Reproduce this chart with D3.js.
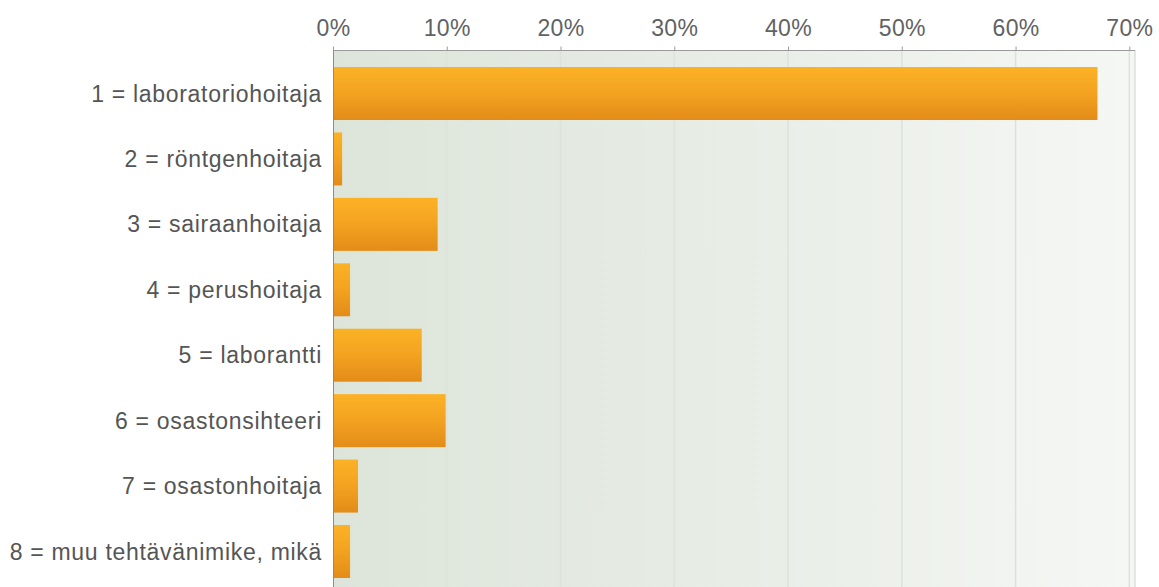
<!DOCTYPE html>
<html>
<head>
<meta charset="utf-8">
<script src="https://cdn.jsdelivr.net/npm/d3@7"></script>
<style>
  html, body { margin: 0; padding: 0; background: #ffffff; }
  svg { display: block; }
  .cat-label { font-family: "Liberation Sans", Arial, sans-serif; font-size: 23px; fill: #555555; letter-spacing: 0.7px; }
  .tick text { font-family: "Liberation Sans", Arial, sans-serif; font-size: 23px; letter-spacing: 0.4px; }
</style>
</head>
<body>
<svg id="chart" width="1159" height="587"></svg>
<script>
// Job titles of the respondents (share of answers, %)
const categories = [
  "1 = laboratoriohoitaja",
  "2 = röntgenhoitaja",
  "3 = sairaanhoitaja",
  "4 = perushoitaja",
  "5 = laborantti",
  "6 = osastonsihteeri",
  "7 = osastonhoitaja",
  "8 = muu tehtävänimike, mikä"
];
const values = [67.2, 0.8, 9.2, 1.5, 7.8, 9.9, 2.2, 1.5];
const tickValues = [0, 10, 20, 30, 40, 50, 60, 70];
const tickLabels = ["0%", "10%", "20%", "30%", "40%", "50%", "60%", "70%"];

const plot = { left: 333, right: 1135, top: 50, bottom: 595 };

const svg = d3.select("#chart");

const x = d3.scaleLinear().domain([0, 70.5]).range([plot.left, plot.right]);
const y = d3.scaleBand()
  .domain(categories)
  .range([plot.top, plot.bottom])
  .paddingInner(0.19)
  .paddingOuter(0.26);

const defs = svg.append("defs");

// plot background: soft grey-green fading to the right
const bg = defs.append("linearGradient").attr("id", "bgGrad")
  .attr("x1", "0").attr("y1", "0").attr("x2", "1").attr("y2", "0");
bg.append("stop").attr("offset", "0").attr("stop-color", "#dde5da");
bg.append("stop").attr("offset", "0.5").attr("stop-color", "#e8ede6");
bg.append("stop").attr("offset", "1").attr("stop-color", "#f5f7f4");

// bar fill: light orange on top, deeper orange below
const bar = defs.append("linearGradient").attr("id", "barGrad")
  .attr("x1", "0").attr("y1", "0").attr("x2", "0").attr("y2", "1");
bar.append("stop").attr("offset", "0").attr("stop-color", "#fbb226");
bar.append("stop").attr("offset", "0.45").attr("stop-color", "#f4a421");
bar.append("stop").attr("offset", "1").attr("stop-color", "#e38c19");

svg.append("rect")
  .attr("x", plot.left).attr("y", plot.top)
  .attr("width", plot.right - plot.left)
  .attr("height", plot.bottom - plot.top)
  .attr("fill", "url(#bgGrad)");

// vertical grid lines
svg.append("g").selectAll("line")
  .data(tickValues.slice(1))
  .join("line")
  .attr("x1", d => x(d)).attr("x2", d => x(d))
  .attr("y1", plot.top).attr("y2", plot.bottom)
  .attr("stroke", "#dde2da")
  .attr("stroke-width", 1.5);

// right border of the plot area
svg.append("line")
  .attr("x1", plot.right).attr("x2", plot.right)
  .attr("y1", plot.top).attr("y2", plot.bottom)
  .attr("stroke", "#cdd1cb").attr("stroke-width", 1);

// bars
svg.append("g").selectAll("rect")
  .data(values)
  .join("rect")
  .attr("x", x(0))
  .attr("y", (d, i) => y(categories[i]))
  .attr("width", d => x(d) - x(0))
  .attr("height", y.bandwidth())
  .attr("fill", "url(#barGrad)");

// left axis line
svg.append("line")
  .attr("x1", plot.left + 0.5).attr("x2", plot.left + 0.5)
  .attr("y1", plot.top).attr("y2", plot.bottom)
  .attr("stroke", "#8c8c8c").attr("stroke-width", 1);

// top percentage axis
const axis = d3.axisTop(x)
  .tickValues(tickValues)
  .tickFormat((d, i) => tickLabels[i])
  .tickSize(4)
  .tickSizeOuter(0)
  .tickPadding(11);

const gAxis = svg.append("g")
  .attr("transform", `translate(0,${plot.top + 0.5})`)
  .call(axis);
gAxis.select(".domain").attr("stroke", "#9a9a9a").attr("d", `M${plot.left},0H${plot.right}`);
gAxis.selectAll(".tick line").attr("stroke", "#9a9a9a");
gAxis.selectAll(".tick text").attr("fill", "#626262");

// category labels
svg.append("g").selectAll("text")
  .data(categories)
  .join("text")
  .attr("class", "cat-label")
  .attr("x", plot.left - 11)
  .attr("y", d => y(d) + y.bandwidth() / 2)
  .attr("dy", "0.35em")
  .attr("text-anchor", "end")
  .text(d => d);
</script>
</body>
</html>
